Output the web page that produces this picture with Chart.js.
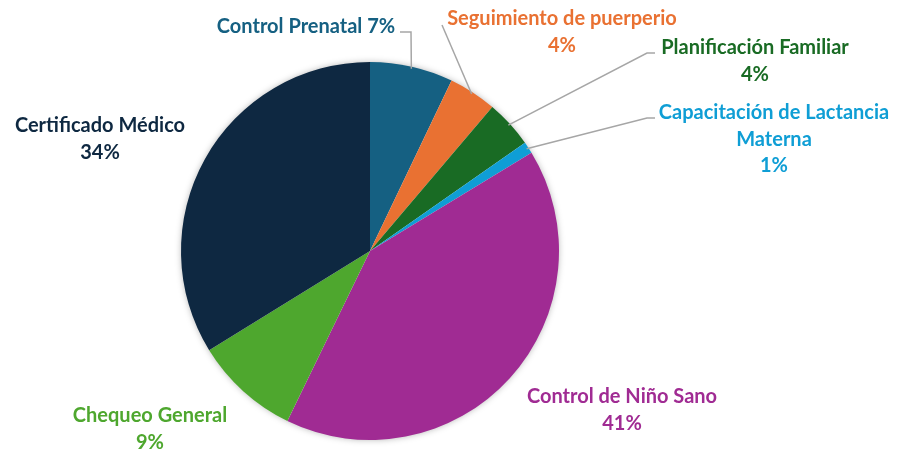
<!DOCTYPE html>
<html>
<head>
<meta charset="utf-8">
<script src="https://cdn.jsdelivr.net/npm/chart.js@4"></script>
<style>
  html, body { margin: 0; padding: 0; background: #fff; }
  #wrap { width: 899px; height: 450px; }
</style>
</head>
<body>
<div id="wrap"><canvas id="pie"></canvas></div>
<script>
// datos del gráfico
const categorias = [
    'Control Prenatal',
    'Seguimiento de puerperio',
    'Planificación Familiar',
    ['Capacitación de Lactancia', 'Materna'],
    'Control de Niño Sano',
    'Chequeo General',
    'Certificado Médico'
];
const valores = [7.1, 4.1, 4.1, 1.0, 40.9, 9.0, 33.8];
const colores = [
    "#156082", // control prenatal
    "#E97132", // puerperio
    "#196B24", // planificación
    "#0F9ED5", // lactancia
    "#A02B93", // niño sano
    "#4EA72E", // chequeo
    "#0E2841"  // certificado
];

// posición de las etiquetas (centro del texto, primera línea base) y codos de las líneas guía
const etiquetas = [
    { x: 306, y: 33, inline: true, guia: [[411, 32], [400, 32]] },
    { x: 562, y: 25, guia: [[442, 25]] },
    { x: 755, y: 54, guia: [[647, 53], [655, 53]] },
    { x: 774, y: 119, guia: [[647, 118], [655, 118]] },
    { x: 622, y: 403 },
    { x: 150, y: 422 },
    { x: 100, y: 132 }
];
const fuente = 'bold 20px Lato, "Noto Sans", sans-serif';
const altoLinea = 26.5;

const sombraPie = {
    id: 'sombraPie',
    beforeDatasetsDraw(chart) {
        const arc = chart.getDatasetMeta(0).data[0];
        if (!arc) return;
        const ctx = chart.ctx;
        ctx.save();
        ctx.shadowColor = 'rgba(0,0,0,0.35)';
        ctx.shadowBlur = 7;
        ctx.beginPath();
        ctx.arc(arc.x, arc.y, arc.outerRadius - 1, 0, Math.PI * 2);
        ctx.fillStyle = '#fff';
        ctx.fill();
        ctx.restore();
    }
};

const etiquetasPie = {
    id: 'etiquetasPie',
    afterDatasetsDraw(chart) {
        const ctx = chart.ctx;
        const meta = chart.getDatasetMeta(0);
        const total = valores.reduce((s, v) => s + v, 0);
        ctx.save();
        meta.data.forEach((arc, i) => {
            const conf = etiquetas[i];
            const pct = Math.round(valores[i] / total * 100) + '%';
            let lineas = [].concat(categorias[i]);
            if (conf.inline) {
                lineas[lineas.length - 1] += ' ' + pct;
            } else {
                lineas.push(pct);
            }
            // línea guía
            if (conf.guia) {
                const medio = (arc.startAngle + arc.endAngle) / 2;
                const r = arc.outerRadius - 2;
                ctx.beginPath();
                ctx.moveTo(arc.x + Math.cos(medio) * r, arc.y + Math.sin(medio) * r);
                conf.guia.forEach(p => ctx.lineTo(p[0], p[1]));
                ctx.strokeStyle = '#A6A6A6';
                ctx.lineWidth = 1.5;
                ctx.stroke();
            }
            ctx.font = fuente;
            ctx.fillStyle = colores[i];
            ctx.textAlign = 'center';
            ctx.textBaseline = 'alphabetic';
            lineas.forEach((t, k) => {
                ctx.fillText(t, conf.x, conf.y + k * altoLinea);
            });
        });
        ctx.restore();
    }
};

const ctxPie = document.getElementById('pie').getContext('2d');
const pieChart = new Chart(ctxPie, {
    type: 'pie',
    data: {
        labels: categorias,
        datasets: [{
            data: valores,
            backgroundColor: colores,
            borderWidth: 0
        }]
    },
    options: {
        responsive: true,
        maintainAspectRatio: false,
        animation: false,
        layout: {
            padding: { left: 181, right: 340, top: 62, bottom: 10 }
        },
        plugins: {
            legend: { display: false },
            tooltip: { enabled: false }
        }
    },
    plugins: [sombraPie, etiquetasPie]
});
</script>
</body>
</html>
